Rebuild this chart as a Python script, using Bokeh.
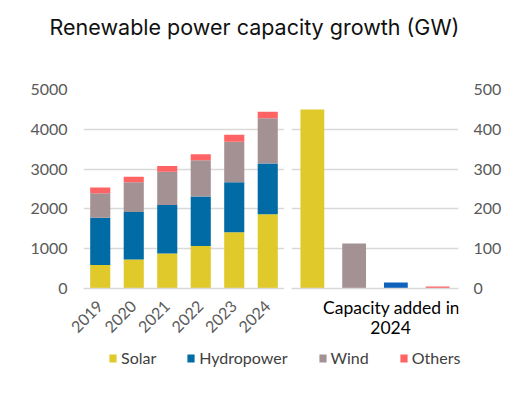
import math
from bokeh.plotting import figure
from bokeh.layouts import column, row
from bokeh.models import ColumnDataSource, FactorRange, Range1d, FixedTicker, Label, Legend, LegendItem
from bokeh.embed import file_html
from bokeh.resources import INLINE

title_text = "Renewable power capacity growth (GW)"
years = ["2019", "2020", "2021", "2022", "2023", "2024"]
solar = [590, 730, 880, 1065, 1415, 1865]
hydropower = [1185, 1195, 1215, 1245, 1255, 1275]
wind = [620, 745, 840, 910, 1020, 1140]
others = [145, 140, 140, 150, 170, 160]
left_ticks = [0, 1000, 2000, 3000, 4000, 5000]

added_sources = ["Solar", "Wind", "Hydropower", "Others"]
added_2024 = [450, 113, 15, 5]
right_ticks = [0, 100, 200, 300, 400, 500]
added_label_lines = ["Capacity added in", "2024"]

series = ["Solar", "Hydropower", "Wind", "Others"]
series_colors = ["#E0C92B", "#006BA4", "#A39194", "#FF6363"]
added_colors = ["#E0C92B", "#A39194", "#0F62BC", "#FF6363"]

GRID = "#D9D9D9"
TICK = "#595959"
FONT = "Lato"

def blank(p):
    p.axis.visible = False
    p.grid.grid_line_color = None
    p.outline_line_color = None

def style_common(p):
    p.outline_line_color = None
    p.xgrid.grid_line_color = None
    p.ygrid.grid_line_color = GRID
    p.ygrid.grid_line_width = 1.5
    for ax in p.yaxis:
        ax.axis_line_color = None
        ax.major_tick_line_color = None
        ax.minor_tick_line_color = None
        ax.major_tick_out = 0
        ax.major_tick_in = 0
        ax.minor_tick_out = 0
        ax.major_label_text_font = FONT
        ax.major_label_text_font_size = "16px"
        ax.major_label_text_color = TICK
    for ax in p.xaxis:
        ax.axis_line_color = GRID
        ax.axis_line_width = 1.5
        ax.major_tick_line_color = None
        ax.minor_tick_line_color = None
        ax.major_tick_out = 0
        ax.major_tick_in = 0
        ax.major_label_text_font = FONT
        ax.major_label_text_font_size = "16px"
        ax.major_label_text_color = TICK

# title (frame 40..508, shared alignment with the legend figure)
pt = figure(width=508, height=68, x_range=Range1d(0, 1), y_range=Range1d(0, 1),
            output_backend="svg", toolbar_location=None,
            min_border_left=40, min_border_right=0, min_border_top=0, min_border_bottom=0)
blank(pt)
pt.add_layout(Label(x=(254 - 40) / 468, y=0.61, text=title_text, text_align="center",
                    text_baseline="middle", text_font="Inter", text_font_size="21.5px",
                    text_color="#111111"))

# left stacked chart
src = ColumnDataSource(dict(year=years, Solar=solar, Hydropower=hydropower, Wind=wind, Others=others))
pl = figure(x_range=FactorRange(*years), y_range=Range1d(0, 5000), width=284, height=275,
            output_backend="svg", toolbar_location=None,
            min_border_left=83, min_border_right=0, min_border_top=21, min_border_bottom=55)
pl.vbar_stack(series, x="year", width=0.6, source=src, fill_color=series_colors, line_color=None)
style_common(pl)
pl.yaxis.ticker = FixedTicker(ticks=left_ticks)
pl.yaxis.major_label_standoff = 16
pl.xaxis.major_label_orientation = math.pi / 4
pl.xaxis.major_label_standoff = 15

# right chart
rsrc = ColumnDataSource(dict(src=added_sources, val=added_2024, color=added_colors))
pr = figure(x_range=FactorRange(*added_sources), y_range=Range1d(0, 500), width=224, height=228,
            y_axis_location="right", output_backend="svg", toolbar_location=None,
            min_border_left=7, min_border_right=50, min_border_top=21, min_border_bottom=8)
pr.vbar(x="src", top="val", width=0.57, source=rsrc, fill_color="color", line_color=None)
style_common(pr)
pr.yaxis.ticker = FixedTicker(ticks=right_ticks)
pr.yaxis.major_label_standoff = 15
pr.xaxis.major_label_overrides = {s: "" for s in added_sources}
pr.xaxis.major_label_text_color = None
pr.xaxis.major_label_text_font_size = "1px"
pr.xaxis.major_label_standoff = 0

# caption under right chart (frame aligned with the right chart's frame)
pc = figure(width=224, height=47, x_range=Range1d(0, 1), y_range=Range1d(0, 1),
            output_backend="svg", toolbar_location=None,
            min_border_left=7, min_border_right=50, min_border_top=0, min_border_bottom=0)
blank(pc)
pc.add_layout(Label(x=0.599, y=0.766, text=added_label_lines[0], text_align="center",
                    text_baseline="middle", text_font=FONT, text_font_size="17.5px",
                    text_color="#000000"))
pc.add_layout(Label(x=0.593, y=0.34, text=added_label_lines[1], text_align="center",
                    text_baseline="middle", text_font=FONT, text_font_size="17.5px",
                    text_color="#000000"))

# legend
lg = figure(width=508, height=30, x_range=Range1d(0, 1), y_range=Range1d(0, 1),
            output_backend="svg", toolbar_location=None,
            min_border_left=40, min_border_right=0, min_border_top=0, min_border_bottom=0)
blank(lg)
items = []
for name, c in zip(series, series_colors):
    r = lg.vbar(x=[0], top=[0], bottom=[0], width=0, fill_color=c, line_color=None)
    items.append(LegendItem(label=name, renderers=[r]))
legend = Legend(items=items, orientation="horizontal", location=(68, 6),
                border_line_color=None, background_fill_alpha=0,
                spacing=30, label_standoff=4, glyph_width=9, glyph_height=10,
                label_text_font=FONT, label_text_font_size="16px", label_text_color="#404040",
                padding=0, margin=0)
lg.add_layout(legend)

layout = column(pt, row(pl, column(pr, pc)), lg)
open("out.html", "w").write(file_html(layout, INLINE))
